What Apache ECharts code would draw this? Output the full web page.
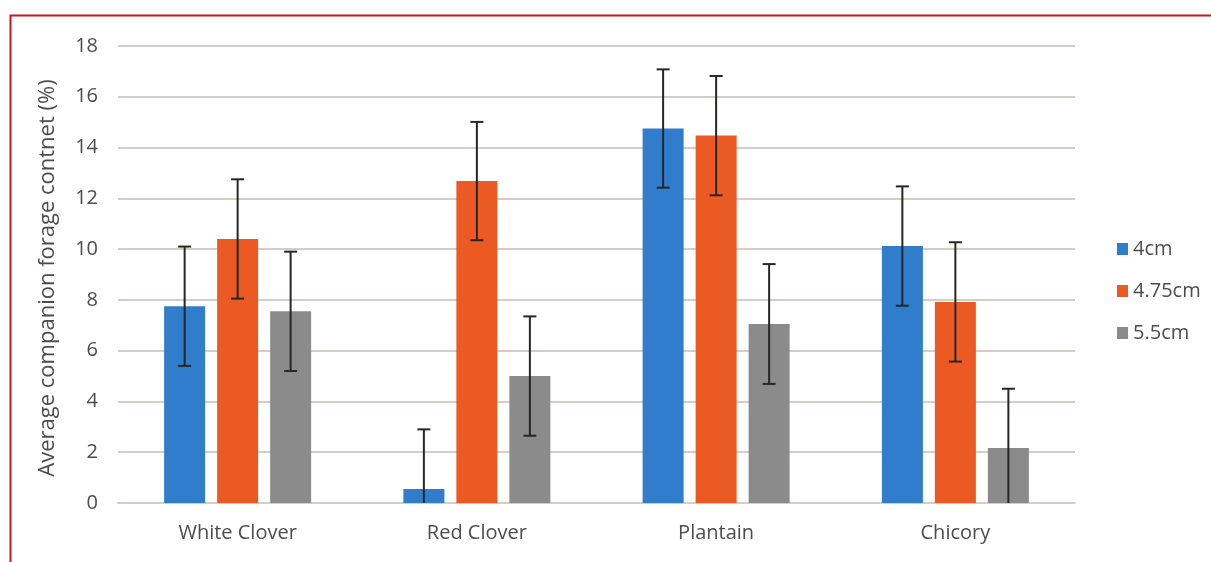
<!DOCTYPE html>
<html>
<head>
<meta charset="utf-8">
<script src="https://cdn.jsdelivr.net/npm/echarts@6/dist/echarts.min.js"></script>
<style>
html,body{margin:0;padding:0;background:#fff;}
#chart{width:1211px;height:562px;}
</style>
</head>
<body>
<div id="chart"></div>
<script>
var categories = ['White Clover', 'Red Clover', 'Plantain', 'Chicory'];
var seriesNames = ['4cm', '4.75cm', '5.5cm'];
var values4 = [7.75, 0.55, 14.75, 10.12];
var values475 = [10.4, 12.68, 14.47, 7.92];
var values55 = [7.55, 5.0, 7.05, 2.17];
var errors4 = [2.35, 2.35, 2.33, 2.35];
var errors475 = [2.35, 2.33, 2.35, 2.35];
var errors55 = [2.35, 2.35, 2.36, 2.33];
var yTicks = [0, 2, 4, 6, 8, 10, 12, 14, 16, 18];
var yTitle = 'Average companion forage contnet (%)';

var colors = ['#2f7dcb', '#ea5a22', '#8b8b8b'];
var allValues = [values4, values475, values55];
var allErrors = [errors4, errors475, errors55];
var BAR_W = 41, BAR_GAP = 12;
var FONT = '"Open Sans", "Liberation Sans", sans-serif';
var TXT = '#4d4d4d';

function errorSeries(k) {
  var data = categories.map(function (c, i) {
    return [i, allValues[k][i], allErrors[k][i]];
  });
  return {
    type: 'custom',
    name: seriesNames[k] + ' err',
    z: 10,
    silent: true,
    data: data,
    encode: {x: 0, y: 1},
    renderItem: function (params, api) {
      var idx = api.value(0);
      var v = api.value(1);
      var e = api.value(2);
      var hi = api.coord([idx, v + e]);
      var lo = api.coord([idx, Math.max(0, v - e)]);
      var off = (k - 1) * (BAR_W + BAR_GAP);
      var x = hi[0] + off;
      var cap = 6.5;
      var style = {stroke: '#262626', lineWidth: 2};
      var children = [
        {type: 'line', shape: {x1: x, y1: hi[1], x2: x, y2: lo[1]}, style: style},
        {type: 'line', shape: {x1: x - cap, y1: hi[1], x2: x + cap, y2: hi[1]}, style: style}
      ];
      if (v - e > 0) {
        children.push({type: 'line', shape: {x1: x - cap, y1: lo[1], x2: x + cap, y2: lo[1]}, style: style});
      }
      return {type: 'group', children: children};
    }
  };
}

var series = [];
for (var k = 0; k < 3; k++) {
  series.push({
    type: 'bar',
    name: seriesNames[k],
    data: allValues[k],
    barWidth: BAR_W,
    barGap: (BAR_GAP / BAR_W * 100) + '%',
    itemStyle: {color: colors[k]}
  });
}
for (var k2 = 0; k2 < 3; k2++) series.push(errorSeries(k2));

var chart = echarts.init(document.getElementById('chart'), null, {renderer: 'canvas'});
chart.setOption({
  backgroundColor: '#fff',
  animation: false,
  textStyle: {fontFamily: FONT},
  graphic: [{
    type: 'rect',
    left: 8, top: 13,
    shape: {x: 0, y: 0, width: 1400, height: 800},
    style: {fill: 'none', stroke: '#c8161d', lineWidth: 2},
    silent: true,
    z: 100
  }, {
    type: 'text',
    x: 48, y: 278,
    rotation: Math.PI / 2,
    style: {text: yTitle, fontSize: 22, fill: TXT, fontFamily: FONT, align: 'center', verticalAlign: 'middle'},
    silent: true
  }],
  grid: {left: 118, right: 136, top: 46, bottom: 59, containLabel: false},
  legend: {
    data: seriesNames.map(function (n, i) { return {name: n, itemStyle: {color: colors[i]}}; }),
    orient: 'vertical',
    left: 1112,
    top: 234,
    itemWidth: 11,
    itemHeight: 12,
    itemGap: 22,
    icon: 'rect',
    textStyle: {fontSize: 20, color: TXT, fontFamily: FONT}
  },
  xAxis: {
    type: 'category',
    data: categories,
    axisLine: {show: true, lineStyle: {color: '#d6ccc8', width: 2}},
    axisTick: {show: false},
    axisLabel: {fontSize: 20, color: TXT, margin: 20, fontFamily: FONT}
  },
  yAxis: {
    type: 'value',
    min: yTicks[0],
    max: yTicks[yTicks.length - 1],
    interval: 2,
    axisLine: {show: false},
    axisTick: {show: false},
    axisLabel: {fontSize: 20, color: TXT, margin: 20, fontFamily: FONT},
    splitLine: {lineStyle: {color: '#d6ccc8', width: 2}}
  },
  series: series
});
</script>
</body>
</html>
